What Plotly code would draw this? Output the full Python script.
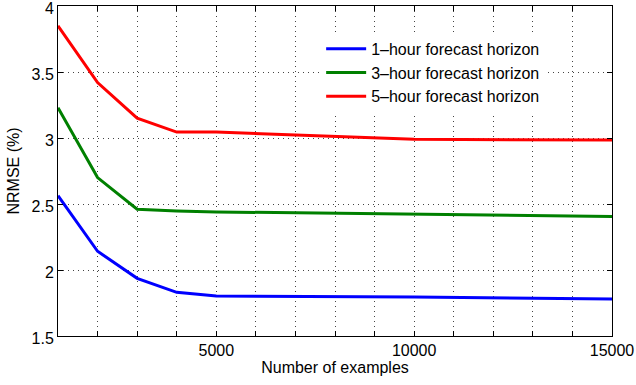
import plotly.graph_objects as go

n_examples = [1000, 2000, 3000, 4000, 5000, 10000, 15000]
nrmse_1h = [2.563, 2.142, 1.937, 1.831, 1.803, 1.795, 1.780]
nrmse_3h = [3.23, 2.70, 2.46, 2.447, 2.44, 2.42, 2.405]
nrmse_5h = [3.85, 3.42, 3.15, 3.045, 3.045, 2.99, 2.985]
series_names = ["1\u2013hour forecast horizon", "3\u2013hour forecast horizon", "5\u2013hour forecast horizon"]
series_colors = ["#0000FF", "#008000", "#FF0000"]

fig = go.Figure()
for name, vals, col in zip(series_names, [nrmse_1h, nrmse_3h, nrmse_5h], series_colors):
    fig.add_trace(go.Scatter(x=n_examples, y=vals, mode="lines", name=name,
                             line=dict(color=col, width=3)))

font = dict(family="Liberation Sans, Arial, sans-serif", size=16, color="black")
grid_kw = dict(showgrid=True, gridcolor="#444444", gridwidth=1, griddash="1px,4px")
axis_common = dict(
    showline=True, linecolor="black", linewidth=1, mirror="ticks",
    ticks="inside", ticklen=5, tickcolor="black", tickwidth=1,
    zeroline=False, tickfont=font, ticklabeloverflow="allow",
    **grid_kw,
)
fig.update_xaxes(range=[1000, 15000], tick0=0, dtick=5000, tickformat="d",
                 minor=dict(dtick=1000, tick0=0, ticks="inside", ticklen=5, tickcolor="black",
                            **grid_kw),
                 title=dict(text="Number of examples", font=font, standoff=2),
                 **axis_common)
fig.update_yaxes(range=[1.5, 4], tick0=1.5, dtick=0.5, ticklabelshift=2,
                 title=dict(text="NRMSE (%)", font=font, standoff=7),
                 **axis_common)
fig.update_layout(
    width=636, height=385,
    margin=dict(l=58, r=24, t=6, b=49, autoexpand=False),
    paper_bgcolor="white", plot_bgcolor="white",
    font=font,
    showlegend=True,
    legend=dict(x=0.475, y=0.922, xanchor="left", yanchor="top",
                bgcolor="white", borderwidth=0, font=font,
                tracegroupgap=0, itemwidth=40),
)
fig.write_html("out.html", config={"displayModeBar": False},
               post_script="document.body.style.margin='0';document.body.style.padding='0';")
